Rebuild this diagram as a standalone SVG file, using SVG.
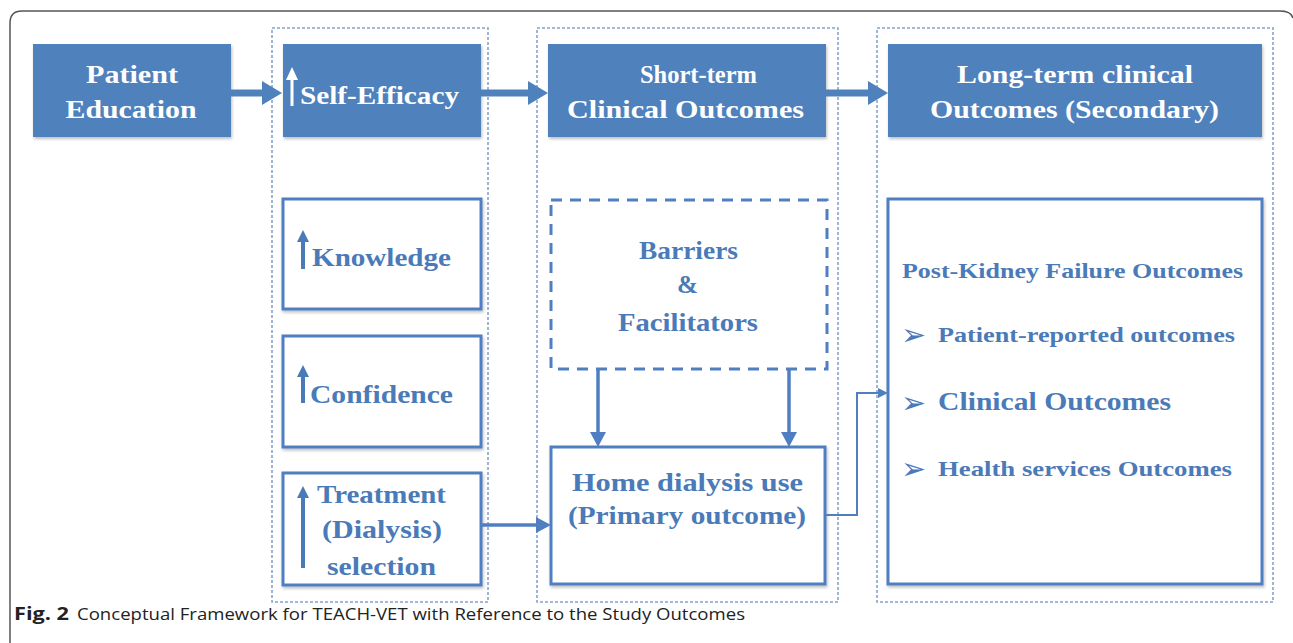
<svg xmlns="http://www.w3.org/2000/svg" width="1293" height="643" viewBox="0 0 1293 643">
<style>
.frame{fill:none;stroke:#555;stroke-width:1.5}
.col{fill:none;stroke:#86a3cc;stroke-width:1.6;stroke-dasharray:3 2}
.solid{fill:#4f81bd;filter:url(#sh)}
.wbox{fill:#fff;stroke:#4f7fc0;stroke-width:3;filter:url(#sh)}
.dbox{fill:#fff;stroke:#4f7fc0;stroke-width:3;stroke-dasharray:11 8}
.hw{font-family:"Liberation Serif",serif;font-weight:bold;font-size:26px;fill:#fff}
.bl{font-family:"Liberation Serif",serif;font-weight:bold;font-size:26px;fill:#4a7ab8}
.bs{font-family:"Liberation Serif",serif;font-weight:bold;font-size:21px;fill:#4a7ab8}
.bul{font-family:"DejaVu Sans",sans-serif;font-size:30px;fill:#4a7ab8}
.cap{font-family:"Open Sans","Liberation Sans",sans-serif;font-size:17px;fill:#222}
.big{stroke:#4f81bd;stroke-width:7;fill:none}
.mid{stroke:#4f7fc0;stroke-width:3.5;fill:none}
.thin{stroke:#4f7fc0;stroke-width:2;fill:none}
</style>
<defs>
<filter id="sh" x="-5%" y="-5%" width="112%" height="115%">
<feDropShadow dx="1" dy="2" stdDeviation="1.5" flood-color="#000" flood-opacity="0.25"/>
</filter>
<marker id="ah" markerUnits="userSpaceOnUse" markerWidth="20" markerHeight="24" refX="1" refY="12" orient="auto">
<path d="M0,0 L20,12 L0,24 z" fill="#4f81bd"/>
</marker>
<marker id="am" markerUnits="userSpaceOnUse" markerWidth="15" markerHeight="16" refX="1" refY="8" orient="auto">
<path d="M0,0 L15,8 L0,16 z" fill="#4f7fc0"/>
</marker>
<marker id="as" markerUnits="userSpaceOnUse" markerWidth="10" markerHeight="10" refX="1" refY="5" orient="auto">
<path d="M0,0 L10,5 L0,10 z" fill="#4f7fc0"/>
</marker>
</defs>
<rect width="1293" height="643" fill="#fff"/>
<path class="frame" d="M10,643 V23 Q10,11 22,11 H1280 Q1291,11 1293,18"/>

<g id="columns">
<rect class="col" x="272" y="28" width="216" height="574"/>
<rect class="col" x="537" y="28" width="301" height="574"/>
<rect class="col" x="877" y="28" width="396" height="574"/>
</g>

<g id="patient-education">
<rect class="solid" x="33" y="44" width="198" height="93"/>
<text class="hw" x="132" y="83" text-anchor="middle" textLength="92" lengthAdjust="spacingAndGlyphs">Patient</text>
<text class="hw" x="131" y="118" text-anchor="middle" textLength="131" lengthAdjust="spacingAndGlyphs">Education</text>
</g>

<g id="self-efficacy">
<rect class="solid" x="283" y="44" width="198" height="93"/>
<path d="M292,106 V78" stroke="#fff" stroke-width="3"/>
<path d="M286,80 L292,67 L298,80 z" fill="#fff"/>
<text class="hw" x="300" y="104" textLength="159" lengthAdjust="spacingAndGlyphs">Self-Efficacy</text>
</g>

<g id="short-term">
<rect class="solid" x="548" y="44" width="278" height="93"/>
<text class="hw" x="640" y="83" textLength="117" lengthAdjust="spacingAndGlyphs">Short-term</text>
<text class="hw" x="567" y="118" textLength="237" lengthAdjust="spacingAndGlyphs">Clinical Outcomes</text>
</g>

<g id="long-term">
<rect class="solid" x="888" y="44" width="374" height="93"/>
<text class="hw" x="957" y="83" textLength="236" lengthAdjust="spacingAndGlyphs">Long-term clinical</text>
<text class="hw" x="930" y="118" textLength="289" lengthAdjust="spacingAndGlyphs">Outcomes (Secondary)</text>
</g>

<g id="knowledge">
<rect class="wbox" x="283" y="199" width="198" height="110"/>
<path d="M303,269 V240" stroke="#4a7ab8" stroke-width="4"/>
<path d="M297,242 L303,230 L309,242 z" fill="#4a7ab8"/>
<text class="bl" x="312" y="266" textLength="139" lengthAdjust="spacingAndGlyphs">Knowledge</text>
</g>

<g id="confidence">
<rect class="wbox" x="283" y="336" width="198" height="111"/>
<path d="M303,403 V375" stroke="#4a7ab8" stroke-width="4"/>
<path d="M297,377 L303,365 L309,377 z" fill="#4a7ab8"/>
<text class="bl" x="310" y="403" textLength="143" lengthAdjust="spacingAndGlyphs">Confidence</text>
</g>

<g id="treatment">
<rect class="wbox" x="283" y="473" width="198" height="112"/>
<path d="M303,568 V496" stroke="#4a7ab8" stroke-width="4"/>
<path d="M297,498 L303,486 L309,498 z" fill="#4a7ab8"/>
<text class="bl" x="317" y="503" textLength="129" lengthAdjust="spacingAndGlyphs">Treatment</text>
<text class="bl" x="322" y="538" textLength="120" lengthAdjust="spacingAndGlyphs">(Dialysis)</text>
<text class="bl" x="327" y="575" textLength="109" lengthAdjust="spacingAndGlyphs">selection</text>
</g>

<g id="barriers">
<rect class="dbox" x="551" y="200" width="276" height="169"/>
<text class="bl" x="639" y="259" textLength="99" lengthAdjust="spacingAndGlyphs">Barriers</text>
<text class="bl" x="677" y="293" textLength="21" lengthAdjust="spacingAndGlyphs">&amp;</text>
<text class="bl" x="618" y="331" textLength="140" lengthAdjust="spacingAndGlyphs">Facilitators</text>
</g>

<g id="home-dialysis">
<rect class="wbox" x="551" y="447" width="274" height="137"/>
<text class="bl" x="572" y="491" textLength="231" lengthAdjust="spacingAndGlyphs">Home dialysis use</text>
<text class="bl" x="568" y="524" textLength="238" lengthAdjust="spacingAndGlyphs">(Primary outcome)</text>
</g>

<g id="post-kidney">
<rect class="wbox" x="888" y="199" width="374" height="385"/>
<text class="bs" x="902" y="278" textLength="341" lengthAdjust="spacingAndGlyphs">Post-Kidney Failure Outcomes</text>
<text class="bul" x="901" y="345">➢</text>
<text class="bs" x="938" y="342" textLength="297" lengthAdjust="spacingAndGlyphs">Patient-reported outcomes</text>
<text class="bul" x="901" y="413">➢</text>
<text class="bl" x="938" y="410" textLength="233" lengthAdjust="spacingAndGlyphs">Clinical Outcomes</text>
<text class="bul" x="901" y="479">➢</text>
<text class="bs" x="938" y="476" textLength="294" lengthAdjust="spacingAndGlyphs">Health services Outcomes</text>
</g>

<g id="connectors">
<line class="big" x1="231" y1="93" x2="263" y2="93" marker-end="url(#ah)"/>
<line class="big" x1="481" y1="93" x2="529" y2="93" marker-end="url(#ah)"/>
<line class="big" x1="826" y1="93" x2="869" y2="93" marker-end="url(#ah)"/>
<line class="mid" x1="598" y1="369" x2="598" y2="433" marker-end="url(#am)"/>
<line class="mid" x1="789" y1="369" x2="789" y2="433" marker-end="url(#am)"/>
<line class="mid" x1="481" y1="525" x2="537" y2="525" marker-end="url(#am)"/>
<polyline class="thin" points="825,515 857,515 857,393 879,393" marker-end="url(#as)"/>
</g>

<g id="caption">
<text class="cap" x="14" y="620" font-weight="bold" textLength="55" lengthAdjust="spacingAndGlyphs">Fig. 2</text>
<text class="cap" x="77" y="620" textLength="668" lengthAdjust="spacingAndGlyphs">Conceptual Framework for TEACH-VET with Reference to the Study Outcomes</text>
</g>
</svg>
